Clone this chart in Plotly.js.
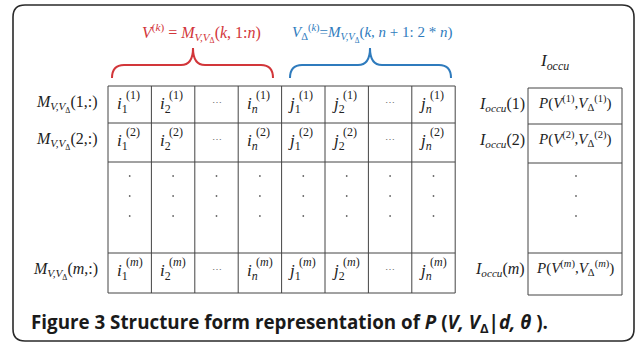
<!DOCTYPE html>
<html>
<head>
<meta charset="utf-8">
<script src="https://cdn.plot.ly/plotly-3.0.1.min.js"></script>
<style>
  html, body { margin: 0; padding: 0; background: #fff; }
  #plot { width: 637px; height: 344px; }
</style>
</head>
<body>
<div id="plot"></div>
<script>
// contenu du schéma
const colBase = ['i', 'i', '⋯', 'i', 'j', 'j', '⋯', 'j'];
const colSub = ['1', '2', '', '<i>n</i>', '1', '2', '', '<i>n</i>'];
const rowTags = ['1', '2', '<i>m</i>'];
const rowSlots = [0, 1, 3];          // rangées de la grille qui portent du texte (2 = points)
const dotCount = 3;
const redLabel = '<i>V</i><sup>(<i>k</i>)</sup> = <i>M</i><sub><i>V,V</i><sub>Δ</sub></sub>(<i>k</i>, 1:<i>n</i>)';
const blueLabel = '<i>V</i><sub>Δ</sub><sup>(<i>k</i>)</sup>=<i>M</i><sub><i>V,V</i><sub>Δ</sub></sub>(<i>k</i>, <i>n</i> + 1: 2 * <i>n</i>)';
const occuTitle = '<i>I</i><sub><i>occu</i></sub>';
const caption = '<b>Figure 3 Structure form representation of <i>P</i> (<i>V, V</i><sub>Δ</sub>|<i>d, θ</i> ).</b>';

const MATH = 'Liberation Serif, serif';
const INK = '#222';
const RED = '#d2363a';
const BLUE = '#2f7bbd';

// géométrie
const gridLeft = 108, colW = 43.4;
const colEdges = [];
for (let i = 0; i <= colBase.length; i++) colEdges.push(gridLeft + i * colW);
const rowEdges = [86, 123, 162, 253, 293];
const rightL = 528, rightR = 622;
const rightEdges = [88, 124, 163, 253, 295];

function ann(x, y, text, extra) {
    return Object.assign({
        x: x, y: y, xref: 'x', yref: 'y', text: text, showarrow: false,
        xanchor: 'center', yanchor: 'middle', borderpad: 0,
        font: { family: MATH, size: 16, color: INK }
    }, extra || {});
}
function line(x0, y0, x1, y1, color, w) {
    return { type: 'line', xref: 'x', yref: 'y', x0: x0, y0: y0, x1: x1, y1: y1,
             line: { color: color || '#444', width: w || 1 } };
}
function brace(x0, x1, cx, color) {
    let top = 48, mid = 65, bot = 78, r = 12;
    let p = `M ${x0},${bot} Q ${x0},${mid} ${x0 + r},${mid} L ${cx - r},${mid} Q ${cx},${mid} ${cx},${top} ` +
            `Q ${cx},${mid} ${cx + r},${mid} L ${x1 - r},${mid} Q ${x1},${mid} ${x1},${bot}`;
    return { type: 'path', xref: 'x', yref: 'y', path: p, line: { color: color, width: 2 } };
}

let shapes = [];
let annotations = [];

// cadre arrondi
let L = 13, T = 5, R = 634, B = 341, rr = 12;
shapes.push({
    type: 'path', xref: 'x', yref: 'y',
    path: `M ${L + rr},${T} L ${R - rr},${T} Q ${R},${T} ${R},${T + rr} L ${R},${B - rr} Q ${R},${B} ${R - rr},${B} ` +
          `L ${L + rr},${B} Q ${L},${B} ${L},${B - rr} L ${L},${T + rr} Q ${L},${T} ${L + rr},${T} Z`,
    line: { color: '#2a2a2a', width: 1.6 }
});

// grille de gauche
rowEdges.forEach(y => shapes.push(line(colEdges[0], y, colEdges[colEdges.length - 1], y)));
colEdges.forEach(x => shapes.push(line(x, rowEdges[0], x, rowEdges[rowEdges.length - 1])));
// tableau de droite
rightEdges.forEach(y => shapes.push(line(rightL, y, rightR, y)));
shapes.push(line(rightL, rightEdges[0], rightL, rightEdges[4]));
shapes.push(line(rightR, rightEdges[0], rightR, rightEdges[4]));

// accolades
shapes.push(brace(112, 273, 193, RED));
shapes.push(brace(290, 451, 370, BLUE));

annotations.push(ann(201, 33, redLabel, { font: { family: MATH, size: 16, color: RED } }));
annotations.push(ann(372, 33, blueLabel, { font: { family: MATH, size: 15, color: BLUE } }));
annotations.push(ann(554, 62, occuTitle, { font: { family: MATH, size: 17, color: INK } }));

// cellules
rowTags.forEach((tag, k) => {
    let slot = rowSlots[k];
    let top = rowEdges[slot];
    let rtop = rightEdges[slot];
    annotations.push(ann(99, top + 18, '<i>M</i><sub><i>V,V</i><sub>Δ</sub></sub>(' + tag + ',:)', { xanchor: 'right' }));
    colBase.forEach((b, c) => {
        let cx = (colEdges[c] + colEdges[c + 1]) / 2;
        if (colSub[c] === '') {
            annotations.push(ann(cx, top + 16, b, { font: { family: MATH, size: 10, color: '#777' } }));
        } else {
            annotations.push(ann(cx - 1, top + 19, '<i>' + b + '</i><sub>' + colSub[c] + '</sub>', { xanchor: 'right', font: { family: MATH, size: 17, color: INK } }));
            annotations.push(ann(cx - 5, top + 9, '(' + tag + ')', { xanchor: 'left', font: { family: MATH, size: 12, color: INK } }));
        }
    });
    annotations.push(ann(526, rtop + 16, '<i>I</i><sub><i>occu</i></sub>(' + tag + ')', { xanchor: 'right' }));
    annotations.push(ann((rightL + rightR) / 2, rtop + 15,
        '<i>P</i>(<i>V</i><sup>(' + tag + ')</sup>,<i>V</i><sub>Δ</sub><sup>(' + tag + ')</sup>)', { font: { family: MATH, size: 15, color: INK } }));
});

// points de suspension verticaux
let dotX = [], dotY = [];
for (let c = 0; c < colBase.length; c++) {
    for (let d = 0; d < dotCount; d++) {
        dotX.push((colEdges[c] + colEdges[c + 1]) / 2);
        dotY.push(rowEdges[2] + 14 + d * 20);
    }
}
for (let d = 0; d < dotCount; d++) {
    dotX.push((rightL + rightR) / 2 + 1);
    dotY.push(rowEdges[2] + 14 + d * 20);
}

annotations.push(ann(30, 323, caption, {
    xanchor: 'left', font: { family: 'Open Sans, sans-serif', size: 18.8, color: '#1a1a1a' }
}));

let trace = {
    x: dotX, y: dotY, mode: 'markers', type: 'scatter', hoverinfo: 'skip',
    marker: { size: 1.8, color: '#666' }
};

let layout = {
    width: 637, height: 344,
    margin: { l: 0, r: 0, t: 0, b: 0 },
    paper_bgcolor: '#fff', plot_bgcolor: '#fff',
    showlegend: false,
    xaxis: { range: [0, 637], visible: false, fixedrange: true },
    yaxis: { range: [344, 0], visible: false, fixedrange: true },
    shapes: shapes,
    annotations: annotations
};

Plotly.newPlot('plot', [trace], layout, { staticPlot: true, displayModeBar: false });
</script>
</body>
</html>
